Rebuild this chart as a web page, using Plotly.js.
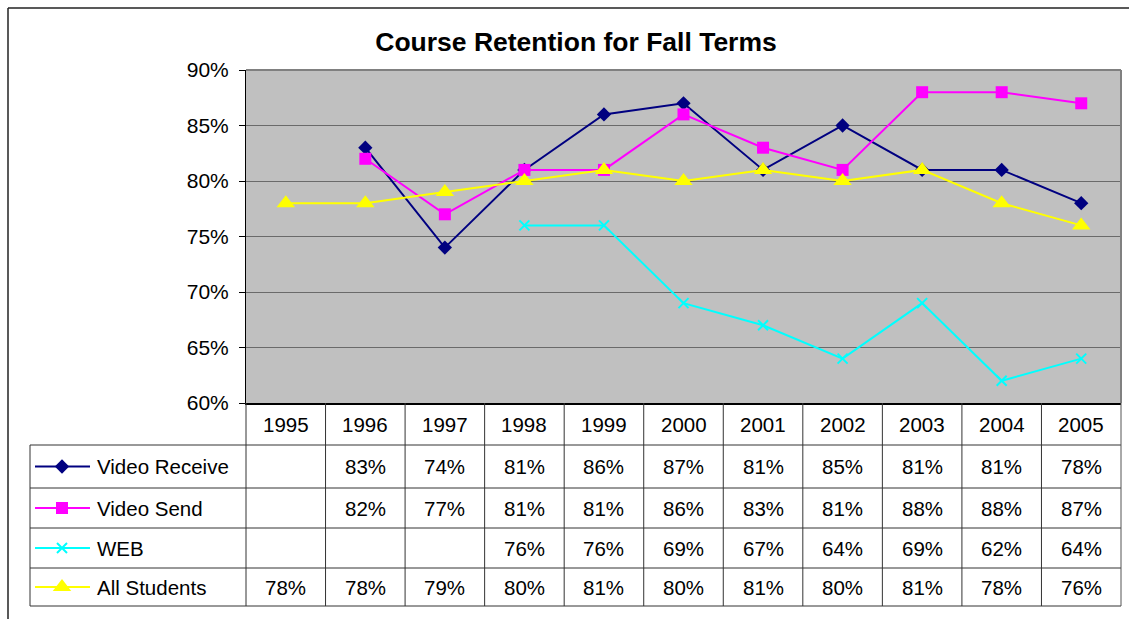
<!DOCTYPE html>
<html><head><meta charset="utf-8">
<script src="https://cdn.plot.ly/plotly-3.0.1.min.js"></script>
<style>html,body{margin:0;padding:0;background:#fff;overflow:hidden}#chart{width:1130px;height:620px}</style>
</head><body><div id="chart"></div>
<script>
// ---- data ----
const years = ['1995','1996','1997','1998','1999','2000','2001','2002','2003','2004','2005'];
const videoReceive = [null,0.83,0.74,0.81,0.86,0.87,0.81,0.85,0.81,0.81,0.78];
const videoSend    = [null,0.82,0.77,0.81,0.81,0.86,0.83,0.81,0.88,0.88,0.87];
const web          = [null,null,null,0.76,0.76,0.69,0.67,0.64,0.69,0.62,0.64];
const allStudents  = [0.78,0.78,0.79,0.80,0.81,0.80,0.81,0.80,0.81,0.78,0.76];
const seriesNames  = ['Video Receive','Video Send','WEB','All Students'];
const chartTitle   = 'Course Retention for Fall Terms';

// ---- styles ----
const seriesData = [videoReceive, videoSend, web, allStudents];
const styles = [
  {color:'#000080', symbol:'diamond', size:11},
  {color:'#FF00FF', symbol:'square', size:12},
  {color:'#00FFFF', symbol:'x-thin-open', size:10},
  {color:'#FFFF00', symbol:'triangle-up', size:16}
];

const W = 1130, H = 620;
const px = x => x / W, py = y => 1 - y / H;
const PX0 = 246, PX1 = 1121, PY0 = 70, PY1 = 403;
const TBL_X0 = 30;
const rowEdges = [403, 445, 488, 528, 568, 606];
const colW = (PX1 - PX0) / years.length;
const FONT = 'Arial, "Liberation Sans", sans-serif';
const LINEC = '#333333';
const TFS = 20.5;

const traces = [];
seriesData.forEach((vals, i) => {
  const s = styles[i];
  traces.push({
    x: years, y: vals, type: 'scatter', mode: 'lines+markers', name: seriesNames[i],
    line: {color: s.color, width: 2},
    marker: {symbol: s.symbol, size: s.size, color: s.color,
             line: {color: s.color, width: s.symbol.startsWith('x') ? 2 : 0}},
    connectgaps: false, hoverinfo: 'skip', showlegend: false, xaxis: 'x', yaxis: 'y'
  });
});

// legend keys inside the table (layout overlay axes in pixel units)
seriesData.forEach((vals, i) => {
  const s = styles[i];
  const yc = (rowEdges[i+1] + rowEdges[i+2]) / 2;
  traces.push({
    x: [35, 62, 90], y: [yc, yc, yc], type: 'scatter', mode: 'lines+markers',
    line: {color: s.color, width: 2},
    marker: {symbol: s.symbol, size: s.size, color: s.color, opacity: [0,1,0],
             line: {color: s.color, width: s.symbol.startsWith('x') ? 2 : 0}},
    hoverinfo: 'skip', showlegend: false, xaxis: 'x2', yaxis: 'y2'
  });
});

const shapes = [];
// outer chart border (top and left visible in frame)
shapes.push({type:'line', xref:'paper', yref:'paper', x0:px(8), x1:px(1129), y0:py(8), y1:py(8), line:{color:'#222', width:1.5}});
shapes.push({type:'line', xref:'paper', yref:'paper', x0:px(8), x1:px(8), y0:py(8), y1:py(619), line:{color:'#222', width:1.5}});
// plot background
shapes.push({type:'rect', xref:'paper', yref:'paper', x0:px(PX0), x1:px(PX1), y0:py(PY1), y1:py(PY0),
  line:{width:0}, fillcolor:'#C0C0C0', layer:'below'});
// plot top & right grey border
shapes.push({type:'line', xref:'paper', yref:'paper', x0:px(PX0), x1:px(PX1), y0:py(PY0), y1:py(PY0), line:{color:'#808080', width:2}});
shapes.push({type:'line', xref:'paper', yref:'paper', x0:px(PX1), x1:px(PX1), y0:py(PY0), y1:py(PY1), line:{color:'#808080', width:2}});
// table horizontal lines
for (let r = 1; r < rowEdges.length; r++) {
  shapes.push({type:'line', xref:'paper', yref:'paper', x0:px(TBL_X0), x1:px(PX1), y0:py(rowEdges[r]), y1:py(rowEdges[r]),
    line:{color:LINEC, width:1}});
}
// table vertical lines
shapes.push({type:'line', xref:'paper', yref:'paper', x0:px(TBL_X0), x1:px(TBL_X0), y0:py(rowEdges[1]), y1:py(rowEdges[5]), line:{color:LINEC, width:1}});
for (let c = 0; c <= years.length; c++) {
  const xx = PX0 + c * colW;
  shapes.push({type:'line', xref:'paper', yref:'paper', x0:px(xx), x1:px(xx), y0:py(rowEdges[0]), y1:py(rowEdges[5]),
    line:{color: c === years.length ? '#555' : LINEC, width:1}});
}

const annotations = [];
// year header
years.forEach((yr, c) => {
  annotations.push({xref:'x', yref:'paper', x: c, y: py((rowEdges[0]+rowEdges[1])/2), text: yr,
    showarrow:false, xanchor:'center', yanchor:'middle', font:{family:FONT, size:TFS, color:'#000'}});
});
// series rows
seriesData.forEach((vals, i) => {
  const yc = (rowEdges[i+1] + rowEdges[i+2]) / 2;
  annotations.push({xref:'paper', yref:'paper', x: px(95), y: py(yc), text: seriesNames[i],
    showarrow:false, xanchor:'left', yanchor:'middle', font:{family:FONT, size:TFS, color:'#000'}});
  vals.forEach((v, c) => {
    if (v === null) return;
    annotations.push({xref:'x', yref:'paper', x: c, y: py(yc), text: Math.round(v*100) + '%',
      showarrow:false, xanchor:'center', yanchor:'middle', font:{family:FONT, size:TFS, color:'#000'}});
  });
});

const layout = {
  width: W, height: H,
  margin: {l:0, r:0, t:0, b:0},
  paper_bgcolor: '#ffffff',
  plot_bgcolor: 'rgba(0,0,0,0)',
  showlegend: false,
  title: {text: chartTitle, x: px(576), y: py(42), xref:'paper', yref:'paper', xanchor:'center', yanchor:'middle',
          font:{family:FONT, size:26.5, color:'#000', weight:'bold'}},
  xaxis: {type:'category', domain:[px(PX0), px(PX1)], range:[-0.5, years.length - 0.5], showticklabels:false,
          showgrid:false, zeroline:false, showline:true, linecolor:'#000', linewidth:2, ticks:'', anchor:'y', fixedrange:true},
  yaxis: {domain:[py(PY1), py(PY0)], range:[0.60, 0.90], tick0:0.60, dtick:0.05, tickformat:'.0%',
          ticks:'outside', ticklen:6, tickcolor:'#000', showline:true, linecolor:'#000', linewidth:1,
          gridcolor:'#6a6a6a', gridwidth:1, zeroline:false, anchor:'x', ticklabelstandoff:6,
          tickfont:{family:FONT, size:21, color:'#000'}, fixedrange:true},
  xaxis2: {domain:[0,1], range:[0, W], visible:false, showline:false, showgrid:false, zeroline:false, anchor:'y2', fixedrange:true},
  yaxis2: {domain:[0,1], range:[H, 0], visible:false, showline:false, showgrid:false, zeroline:false, anchor:'x2', fixedrange:true},
  shapes: shapes,
  annotations: annotations
};

Plotly.newPlot('chart', traces, layout, {displayModeBar:false, staticPlot:true});
</script>
</body></html>
